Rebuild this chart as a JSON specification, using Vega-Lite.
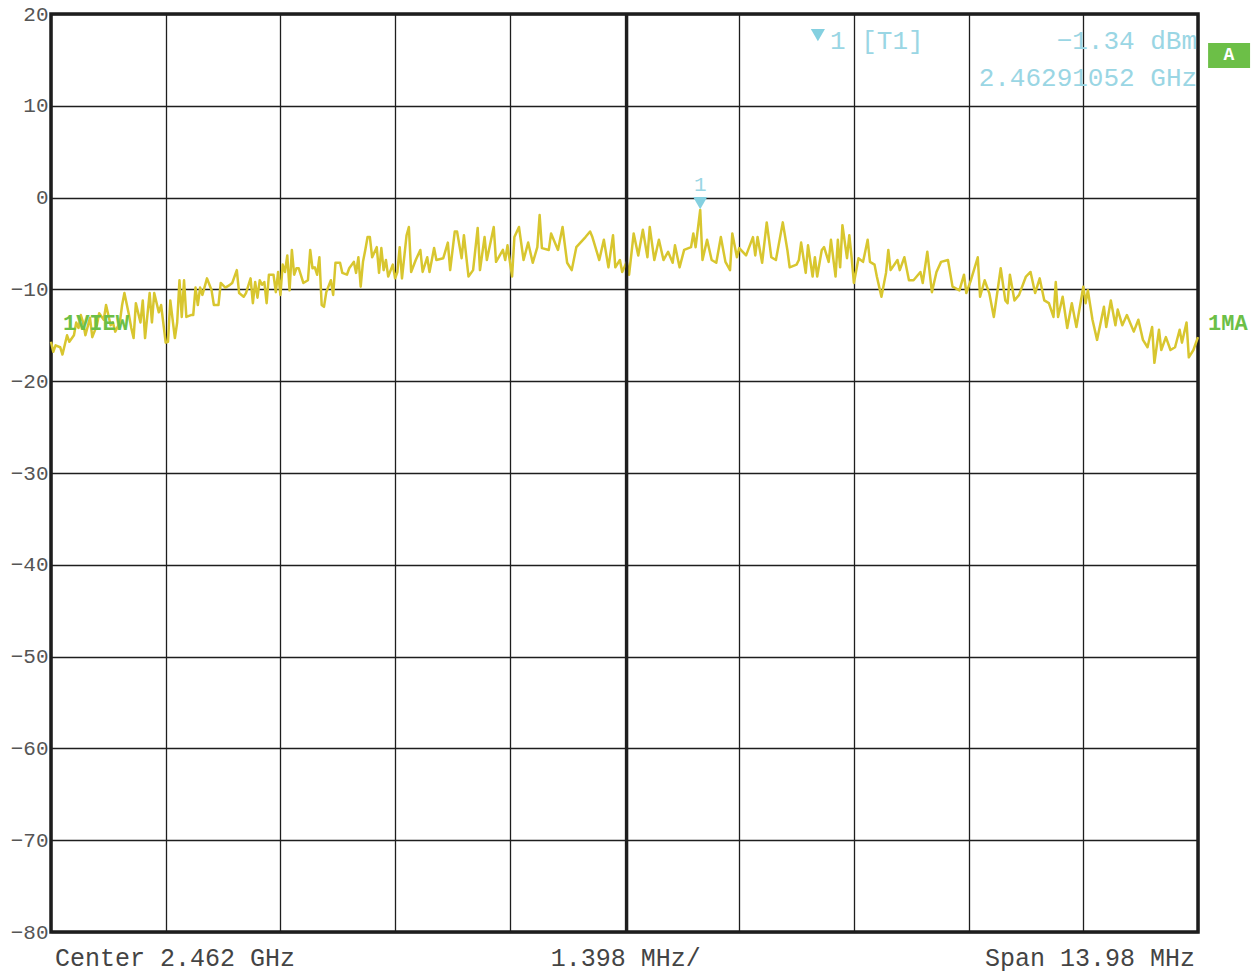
{
  "$schema": "https://vega.github.io/schema/vega-lite/v6.json",
  "width": 1147,
  "height": 918,
  "autosize": {"type": "none"},
  "padding": {"left": 51, "top": 14, "right": 58, "bottom": 41},
  "background": "white",
  "config": {
    "view": {"stroke": "#1c1c1c", "strokeWidth": 3.5},
    "font": "Liberation Mono"
  },
  "datasets": {
    "trace": [
      {"point":0,"level":-15.7},{"point":1,"level":-16.8},{"point":2,"level":-16.1},{"point":4,"level":-16.3},{"point":5,"level":-17.1},
      {"point":7,"level":-15.0},{"point":8,"level":-15.7},{"point":10,"level":-15.0},{"point":11,"level":-13.6},{"point":12,"level":-14.2},
      {"point":13,"level":-12.8},{"point":14,"level":-13.6},{"point":15,"level":-15.0},{"point":17,"level":-13.1},{"point":18,"level":-15.2},
      {"point":20,"level":-13.9},{"point":21,"level":-12.6},{"point":23,"level":-13.3},{"point":24,"level":-11.7},{"point":26,"level":-13.9},
      {"point":27,"level":-13.6},{"point":28,"level":-14.6},{"point":30,"level":-13.6},{"point":31,"level":-11.7},{"point":32,"level":-10.4},
      {"point":34,"level":-12.8},{"point":35,"level":-14.2},{"point":36,"level":-15.3},{"point":37,"level":-11.5},{"point":39,"level":-13.6},
      {"point":40,"level":-11.2},{"point":41,"level":-15.3},{"point":43,"level":-10.4},{"point":44,"level":-13.6},{"point":45,"level":-10.4},
      {"point":47,"level":-12.5},{"point":48,"level":-11.7},{"point":50,"level":-15.8},{"point":51,"level":-15.7},{"point":52,"level":-11.2},
      {"point":54,"level":-15.3},{"point":55,"level":-13.6},{"point":56,"level":-9.0},{"point":57,"level":-13.0},{"point":58,"level":-9.0},
      {"point":59,"level":-13.0},{"point":61,"level":-12.8},{"point":62,"level":-12.8},{"point":63,"level":-9.8},{"point":64,"level":-11.7},
      {"point":65,"level":-9.8},{"point":66,"level":-10.6},{"point":68,"level":-8.8},{"point":70,"level":-10.1},{"point":71,"level":-11.7},
      {"point":73,"level":-11.7},{"point":74,"level":-9.3},{"point":76,"level":-9.8},{"point":78,"level":-9.5},{"point":79,"level":-9.3},
      {"point":81,"level":-7.9},{"point":82,"level":-10.4},{"point":84,"level":-10.8},{"point":85,"level":-10.4},{"point":87,"level":-8.8},
      {"point":88,"level":-11.5},{"point":89,"level":-9.2},{"point":90,"level":-10.9},{"point":91,"level":-9.0},{"point":92,"level":-9.5},
      {"point":93,"level":-9.2},{"point":94,"level":-11.5},{"point":95,"level":-8.4},{"point":97,"level":-8.4},{"point":98,"level":-10.3},
      {"point":99,"level":-8.1},{"point":100,"level":-10.6},{"point":101,"level":-7.3},{"point":102,"level":-8.1},{"point":103,"level":-6.3},
      {"point":104,"level":-10.1},{"point":105,"level":-5.7},{"point":106,"level":-8.4},{"point":107,"level":-7.7},{"point":108,"level":-7.7},
      {"point":110,"level":-9.3},{"point":112,"level":-9.0},{"point":113,"level":-5.7},{"point":114,"level":-7.7},{"point":115,"level":-7.6},
      {"point":116,"level":-8.4},{"point":117,"level":-6.5},{"point":118,"level":-11.7},{"point":119,"level":-11.9},{"point":120,"level":-10.3},
      {"point":122,"level":-9.0},{"point":123,"level":-10.6},{"point":124,"level":-7.1},{"point":126,"level":-7.1},{"point":127,"level":-8.2},
      {"point":129,"level":-8.4},{"point":130,"level":-7.7},{"point":132,"level":-7.0},{"point":133,"level":-8.2},{"point":134,"level":-6.5},
      {"point":135,"level":-9.7},{"point":136,"level":-7.0},{"point":137,"level":-5.7},{"point":138,"level":-4.3},{"point":139,"level":-4.3},
      {"point":140,"level":-6.5},{"point":142,"level":-5.4},{"point":143,"level":-8.2},{"point":144,"level":-5.5},{"point":145,"level":-7.9},
      {"point":146,"level":-6.8},{"point":147,"level":-8.6},{"point":149,"level":-7.3},{"point":150,"level":-8.8},{"point":151,"level":-8.1},
      {"point":152,"level":-5.4},{"point":153,"level":-8.8},{"point":155,"level":-4.1},{"point":156,"level":-3.2},{"point":157,"level":-8.1},
      {"point":159,"level":-6.8},{"point":161,"level":-5.7},{"point":162,"level":-8.1},{"point":164,"level":-6.5},{"point":165,"level":-8.1},
      {"point":167,"level":-5.5},{"point":168,"level":-6.8},
      {"point":171,"level":-6.6},{"point":173,"level":-4.9},{"point":174,"level":-7.9},{"point":176,"level":-3.7},{"point":177,"level":-3.7},
      {"point":179,"level":-6.6},{"point":180,"level":-4.1},{"point":182,"level":-8.6},{"point":184,"level":-7.9},{"point":186,"level":-3.3},
      {"point":187,"level":-7.9},{"point":189,"level":-4.3},{"point":190,"level":-6.8},{"point":193,"level":-3.2},{"point":194,"level":-7.0},
      {"point":197,"level":-5.7},{"point":198,"level":-6.8},{"point":199,"level":-5.2},{"point":201,"level":-8.6},{"point":202,"level":-4.3},
      {"point":204,"level":-3.2},{"point":206,"level":-6.8},{"point":208,"level":-4.9},{"point":210,"level":-7.1},{"point":212,"level":-5.4},
      {"point":213,"level":-1.9},{"point":214,"level":-5.5},{"point":217,"level":-5.7},{"point":218,"level":-3.9},{"point":221,"level":-5.7},
      {"point":223,"level":-3.2},{"point":225,"level":-7.1},{"point":227,"level":-7.9},{"point":229,"level":-5.4},{"point":233,"level":-4.3},
      {"point":235,"level":-3.7},{"point":236,"level":-4.3},{"point":239,"level":-6.8},{"point":241,"level":-4.6},{"point":243,"level":-7.6},
      {"point":245,"level":-4.1},{"point":246,"level":-7.6},{"point":248,"level":-6.8},{"point":249,"level":-8.1},{"point":251,"level":-7.0},
      {"point":252,"level":-8.4},{"point":254,"level":-3.9},{"point":256,"level":-6.3},{"point":258,"level":-3.5},{"point":260,"level":-6.5},
      {"point":261,"level":-3.2},{"point":263,"level":-6.8},{"point":265,"level":-4.6},{"point":267,"level":-6.8},{"point":269,"level":-5.9},
      {"point":271,"level":-7.1},{"point":272,"level":-5.2},{"point":274,"level":-7.6},{"point":276,"level":-5.7},{"point":279,"level":-5.4},
      {"point":280,"level":-3.9},{"point":281,"level":-5.4},{"point":283,"level":-1.34},{"point":284,"level":-6.8},{"point":286,"level":-4.6},
      {"point":288,"level":-6.8},{"point":290,"level":-7.1},{"point":292,"level":-4.3},{"point":294,"level":-7.0},{"point":296,"level":-7.9},
      {"point":297,"level":-3.9},{"point":299,"level":-6.5},{"point":300,"level":-5.5},{"point":303,"level":-6.3},{"point":306,"level":-4.3},
      {"point":307,"level":-6.3},{"point":308,"level":-4.3},{"point":310,"level":-7.1},{"point":312,"level":-2.7},{"point":314,"level":-6.5},
      {"point":316,"level":-6.8},{"point":319,"level":-2.7},{"point":321,"level":-5.7},{"point":322,"level":-7.6},{"point":325,"level":-7.3},
      {"point":326,"level":-6.8},{"point":327,"level":-4.9},{"point":329,"level":-8.2},{"point":330,"level":-5.2},{"point":332,"level":-8.6},
      {"point":333,"level":-6.5},{"point":334,"level":-8.6},{"point":336,"level":-5.7},{"point":337,"level":-5.4},{"point":339,"level":-7.0},
      {"point":340,"level":-4.6},{"point":342,"level":-8.6},{"point":343,"level":-4.6},{"point":344,"level":-7.6},{"point":345,"level":-3.0},
      {"point":347,"level":-6.6},{"point":348,"level":-4.1},{"point":349,"level":-6.5},{"point":350,"level":-9.3},{"point":352,"level":-6.6},
      {"point":354,"level":-7.0},{"point":356,"level":-4.6},{"point":357,"level":-7.0},{"point":359,"level":-7.3},{"point":360,"level":-8.6},
      {"point":362,"level":-10.8},{"point":364,"level":-8.2},{"point":365,"level":-5.7},{"point":366,"level":-7.9},{"point":369,"level":-6.8},
      {"point":370,"level":-7.9},{"point":372,"level":-6.5},{"point":374,"level":-9.0},{"point":376,"level":-9.0},{"point":379,"level":-8.1},
      {"point":380,"level":-9.3},{"point":382,"level":-5.9},{"point":384,"level":-10.3},{"point":386,"level":-8.1},{"point":388,"level":-7.0},
      {"point":391,"level":-6.8},{"point":393,"level":-9.7},{"point":396,"level":-10.1},{"point":398,"level":-8.4},{"point":399,"level":-10.4},
      {"point":401,"level":-9.0},{"point":404,"level":-6.5},{"point":405,"level":-10.8},{"point":407,"level":-9.0},{"point":409,"level":-10.4},
      {"point":411,"level":-13.0},{"point":414,"level":-7.7},{"point":416,"level":-11.2},{"point":417,"level":-11.5},{"point":418,"level":-8.4},
      {"point":420,"level":-11.2},{"point":422,"level":-10.6},{"point":425,"level":-8.6},{"point":427,"level":-8.1},{"point":429,"level":-10.4},
      {"point":431,"level":-8.8},{"point":433,"level":-11.2},{"point":435,"level":-11.5},{"point":437,"level":-13.0},{"point":438,"level":-9.2},
      {"point":439,"level":-13.0},{"point":441,"level":-10.8},{"point":443,"level":-14.2},{"point":445,"level":-11.5},{"point":447,"level":-14.1},
      {"point":450,"level":-9.7},{"point":451,"level":-11.5},{"point":452,"level":-10.1},{"point":454,"level":-13.3},{"point":456,"level":-15.5},
      {"point":459,"level":-11.9},{"point":460,"level":-14.1},{"point":462,"level":-11.2},{"point":464,"level":-13.9},{"point":465,"level":-12.2},
      {"point":467,"level":-13.9},{"point":469,"level":-12.8},{"point":472,"level":-14.6},{"point":474,"level":-13.3},{"point":476,"level":-15.5},
      {"point":478,"level":-16.3},{"point":480,"level":-14.1},{"point":481,"level":-18.0},{"point":483,"level":-14.4},{"point":484,"level":-16.6},
      {"point":486,"level":-15.2},{"point":488,"level":-16.6},{"point":490,"level":-16.3},{"point":492,"level":-14.4},{"point":493,"level":-15.8},
      {"point":495,"level":-13.6},{"point":496,"level":-17.4},{"point":498,"level":-16.6},{"point":500,"level":-15.2}
    ],
    "notes": [
      {"role":"axisL","x":1.7,"y":-82.8,"t":"Center 2.462 GHz"},
      {"role":"axisC","x":250.5,"y":-82.8,"t":"1.398 MHz/"},
      {"role":"axisR","x":498.7,"y":-82.8,"t":"Span 13.98 MHz"},
      {"role":"mkR","x":499.6,"y":17.06,"t":"−1.34 dBm"},
      {"role":"mkR","x":499.6,"y":13.03,"t":"2.46291052 GHz"},
      {"role":"mkL","x":339.6,"y":17.06,"t":"1 [T1]"},
      {"role":"mkC","x":283,"y":1.37,"t":"1"},
      {"role":"tri","x":283,"y":-0.6,"t":""},
      {"role":"tri","x":334.3,"y":17.7,"t":""},
      {"role":"green","x":5.2,"y":-13.66,"t":"1VIEW"},
      {"role":"green","x":504.4,"y":-13.66,"t":"1MA"},
      {"role":"boxT","x":513.5,"y":15.48,"t":"A"}
    ],
    "box": [{"x":504.4,"x2":522.7,"y":16.84,"y2":14.12}],
    "center": [{"point":251}]
  },
  "layer": [
    {
      "data": {"name": "trace"},
      "mark": {"type": "line", "color": "#d8c62f", "strokeWidth": 2.5, "strokeJoin": "round"},
      "encoding": {
        "x": {
          "field": "point", "type": "quantitative",
          "scale": {"domain": [0, 500], "nice": false, "zero": false},
          "axis": {
            "values": [0,50,100,150,200,250,300,350,400,450,500],
            "labels": false, "ticks": false, "domain": false, "title": null,
            "grid": true, "gridColor": "#1e1e1e", "gridWidth": 1.3, "gridOpacity": 1
          }
        },
        "y": {
          "field": "level", "type": "quantitative",
          "scale": {"domain": [-80, 20], "nice": false, "zero": false},
          "axis": {
            "values": [-80,-70,-60,-50,-40,-30,-20,-10,0,10,20],
            "ticks": false, "domain": false, "title": null,
            "grid": true, "gridColor": "#1e1e1e", "gridWidth": 1.3, "gridOpacity": 1,
            "labelFont": "Liberation Mono", "labelFontSize": 21, "labelColor": "#555555",
            "labelPadding": 3, "labelFlush": false, "labelOverlap": false
          }
        }
      }
    },
    {
      "data": {"name": "center"},
      "mark": {"type": "rule", "color": "#1e1e1e", "strokeWidth": 3},
      "encoding": {"x": {"field": "point", "type": "quantitative"}}
    },
    {
      "data": {"name": "box"},
      "mark": {"type": "rect", "color": "#6cbf47"},
      "encoding": {
        "x": {"field": "x", "type": "quantitative"}, "x2": {"field": "x2"},
        "y": {"field": "y", "type": "quantitative"}, "y2": {"field": "y2"}
      }
    },
    {
      "data": {"name": "notes"},
      "transform": [{"filter": "datum.role === 'tri'"}],
      "mark": {"type": "point", "shape": "triangle-down", "filled": true, "color": "#84d0e0", "size": 200, "opacity": 1},
      "encoding": {"x": {"field": "x", "type": "quantitative"}, "y": {"field": "y", "type": "quantitative"}}
    },
    {
      "data": {"name": "notes"},
      "transform": [{"filter": "datum.role === 'axisL'"}],
      "mark": {"type": "text", "align": "left", "baseline": "middle", "font": "Liberation Mono", "fontSize": 25, "color": "#444444"},
      "encoding": {"x": {"field": "x", "type": "quantitative"}, "y": {"field": "y", "type": "quantitative"}, "text": {"field": "t"}}
    },
    {
      "data": {"name": "notes"},
      "transform": [{"filter": "datum.role === 'axisC'"}],
      "mark": {"type": "text", "align": "center", "baseline": "middle", "font": "Liberation Mono", "fontSize": 25, "color": "#444444"},
      "encoding": {"x": {"field": "x", "type": "quantitative"}, "y": {"field": "y", "type": "quantitative"}, "text": {"field": "t"}}
    },
    {
      "data": {"name": "notes"},
      "transform": [{"filter": "datum.role === 'axisR'"}],
      "mark": {"type": "text", "align": "right", "baseline": "middle", "font": "Liberation Mono", "fontSize": 25, "color": "#444444"},
      "encoding": {"x": {"field": "x", "type": "quantitative"}, "y": {"field": "y", "type": "quantitative"}, "text": {"field": "t"}}
    },
    {
      "data": {"name": "notes"},
      "transform": [{"filter": "datum.role === 'mkR'"}],
      "mark": {"type": "text", "align": "right", "baseline": "middle", "font": "Liberation Mono", "fontSize": 26, "color": "#9ad6e4"},
      "encoding": {"x": {"field": "x", "type": "quantitative"}, "y": {"field": "y", "type": "quantitative"}, "text": {"field": "t"}}
    },
    {
      "data": {"name": "notes"},
      "transform": [{"filter": "datum.role === 'mkL'"}],
      "mark": {"type": "text", "align": "left", "baseline": "middle", "font": "Liberation Mono", "fontSize": 26, "color": "#9ad6e4"},
      "encoding": {"x": {"field": "x", "type": "quantitative"}, "y": {"field": "y", "type": "quantitative"}, "text": {"field": "t"}}
    },
    {
      "data": {"name": "notes"},
      "transform": [{"filter": "datum.role === 'mkC'"}],
      "mark": {"type": "text", "align": "center", "baseline": "middle", "font": "Liberation Mono", "fontSize": 21, "color": "#9ad6e4"},
      "encoding": {"x": {"field": "x", "type": "quantitative"}, "y": {"field": "y", "type": "quantitative"}, "text": {"field": "t"}}
    },
    {
      "data": {"name": "notes"},
      "transform": [{"filter": "datum.role === 'green'"}],
      "mark": {"type": "text", "align": "left", "baseline": "middle", "font": "Liberation Mono", "fontSize": 22, "fontWeight": "bold", "color": "#6cbf47"},
      "encoding": {"x": {"field": "x", "type": "quantitative"}, "y": {"field": "y", "type": "quantitative"}, "text": {"field": "t"}}
    },
    {
      "data": {"name": "notes"},
      "transform": [{"filter": "datum.role === 'boxT'"}],
      "mark": {"type": "text", "align": "center", "baseline": "middle", "font": "Liberation Mono", "fontSize": 18, "fontWeight": "bold", "color": "white"},
      "encoding": {"x": {"field": "x", "type": "quantitative"}, "y": {"field": "y", "type": "quantitative"}, "text": {"field": "t"}}
    }
  ]
}
